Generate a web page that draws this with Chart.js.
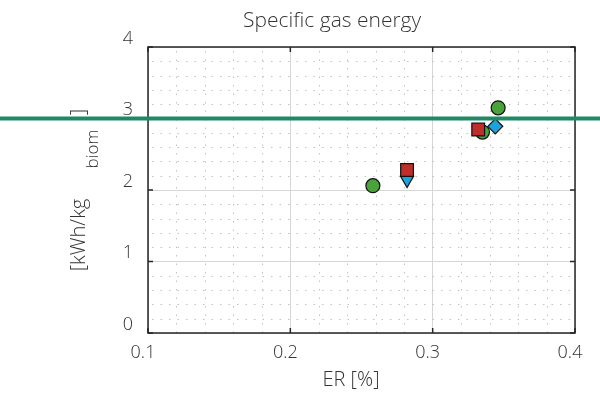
<!DOCTYPE html>
<html>
<head>
<meta charset="utf-8">
<script src="https://cdn.jsdelivr.net/npm/chart.js@4/dist/chart.umd.min.js"></script>
<style>
  html, body { margin: 0; padding: 0; background: #fff; }
  #wrap { width: 600px; height: 395px; }
</style>
</head>
<body>
<div id="wrap"><canvas id="c"></canvas></div>
<script>
"use strict";

// values
var greenPoints = [
    { x: 0.258, y: 2.06 },
    { x: 0.335, y: 2.81 },
    { x: 0.346, y: 3.15 }
];
var redPoints = [
    { x: 0.282, y: 2.28 },
    { x: 0.332, y: 2.845 }
];
var bluePoints = [
    { x: 0.282, y: 2.14 },
    { x: 0.344, y: 2.89 }
];
var blueStyles = ["triangle", "rectRot"];
var blueRotation = [180, 0];
var xTicks = [0.1, 0.2, 0.3, 0.4];
var yTicks = [0, 1, 2, 3, 4];
var refLineValue = 3;

var FONT = "'Open Sans Light', 'Open Sans', sans-serif";
var TEXT = "#333333";

/**
 * Minor dotted grid, inner tick marks and the box frame.
 */
var frame = {
    id: "frame",
    beforeDatasetsDraw: function (chart) {
        var ctx = chart.ctx, a = chart.chartArea;
        var xs = chart.scales.x, ys = chart.scales.y;
        ctx.save();
        ctx.strokeStyle = "#c2c2c2";
        ctx.lineWidth = 1;
        ctx.setLineDash([1.5, 7]);
        var i, v, p;
        for (i = 0; i <= 15; i++) {
            v = 0.1 + i * 0.02;
            if (i % 5 === 0) continue;
            p = Math.round(xs.getPixelForValue(v)) + 0.5;
            ctx.beginPath();
            ctx.moveTo(p, a.top + 4);
            ctx.lineTo(p, a.bottom);
            ctx.stroke();
        }
        for (i = 0; i <= 20; i++) {
            if (i % 5 === 0) continue;
            v = i * 0.2;
            p = Math.round(ys.getPixelForValue(v)) + 0.5;
            ctx.beginPath();
            ctx.moveTo(a.left + 4, p);
            ctx.lineTo(a.right, p);
            ctx.stroke();
        }
        ctx.setLineDash([]);
        ctx.strokeStyle = "#262626";
        ctx.lineWidth = 1.5;
        ctx.strokeRect(a.left, a.top, a.right - a.left, a.bottom - a.top);
        xTicks.forEach(function (t) {
            var px = xs.getPixelForValue(t);
            ctx.beginPath();
            ctx.moveTo(px, a.bottom);
            ctx.lineTo(px, a.bottom - 5);
            ctx.moveTo(px, a.top);
            ctx.lineTo(px, a.top + 5);
            ctx.stroke();
        });
        yTicks.forEach(function (t) {
            var py = ys.getPixelForValue(t);
            ctx.beginPath();
            ctx.moveTo(a.left, py);
            ctx.lineTo(a.left + 5, py);
            ctx.moveTo(a.right, py);
            ctx.lineTo(a.right - 5, py);
            ctx.stroke();
        });
        ctx.restore();
    },
    afterDraw: function (chart) {
        var ctx = chart.ctx;
        ctx.save();
        ctx.fillStyle = TEXT;
        ctx.textAlign = "center";
        ctx.textBaseline = "middle";
        ctx.font = "300 21px " + FONT;
        ctx.fillText("Specific gas energy", 332, 22);
        ctx.font = "300 20px " + FONT;
        ctx.fillText("ER [%]", 351, 381);

        // y axis title, pieces placed as in the reference
        ctx.translate(80, 235);
        ctx.rotate(-Math.PI / 2);
        ctx.font = "300 20px " + FONT;
        ctx.fillText("[kWh/kg", 0, 0);
        ctx.font = "300 17px " + FONT;
        ctx.fillText("biom", 86, 14);
        ctx.font = "300 20px " + FONT;
        ctx.fillText("]", 123, 0);
        ctx.restore();

        // green reference line across the whole picture
        var py = chart.scales.y.getPixelForValue(refLineValue);
        ctx.save();
        ctx.strokeStyle = "#1e8a64";
        ctx.lineWidth = 4;
        ctx.beginPath();
        ctx.moveTo(0, py);
        ctx.lineTo(chart.width, py);
        ctx.stroke();
        ctx.restore();
    }
};

new Chart(document.getElementById("c"), {
    type: "scatter",
    data: {
        datasets: [{
            data: redPoints,
            pointStyle: "rect",
            pointRadius: 9,
            backgroundColor: "#be2f2b",
            borderColor: "#111",
            borderWidth: 1.2
        }, {
            data: bluePoints,
            pointStyle: blueStyles,
            rotation: blueRotation,
            pointRadius: 7.5,
            backgroundColor: "#1ba3dd",
            borderColor: "#111",
            borderWidth: 1.2
        }, {
            data: greenPoints,
            pointStyle: "circle",
            pointRadius: 7,
            backgroundColor: "#4aa23b",
            borderColor: "#111",
            borderWidth: 1.2
        }]
    },
    options: {
        responsive: true,
        maintainAspectRatio: false,
        animation: false,
        layout: {
            padding: { top: 47, right: 25, left: 0, bottom: 0 }
        },
        plugins: {
            legend: { display: false },
            tooltip: { enabled: false },
            title: { display: false }
        },
        scales: {
            x: {
                type: "linear",
                min: 0.1,
                max: 0.4,
                afterFit: function (scale) { scale.height = 62; },
                afterBuildTicks: function (scale) {
                    scale.ticks = xTicks.map(function (v) { return { value: v }; });
                },
                grid: { color: "#d6d6d6", lineWidth: 1, drawTicks: false },
                border: { display: false },
                ticks: {
                    padding: 9,
                    labelOffset: -5,
                    color: TEXT,
                    font: { family: FONT, size: 18, weight: "300" },
                    callback: function (value) { return value.toFixed(1); }
                }
            },
            y: {
                type: "linear",
                min: 0,
                max: 4,
                afterFit: function (scale) { scale.width = 148; },
                afterBuildTicks: function (scale) {
                    scale.ticks = yTicks.map(function (v) { return { value: v }; });
                },
                grid: { color: "#d6d6d6", lineWidth: 1, drawTicks: false },
                border: { display: false },
                ticks: {
                    padding: 15,
                    labelOffset: -8,
                    color: TEXT,
                    font: { family: FONT, size: 18, weight: "300" },
                    callback: function (value) { return String(value); }
                }
            }
        }
    },
    plugins: [frame]
});
</script>
</body>
</html>
